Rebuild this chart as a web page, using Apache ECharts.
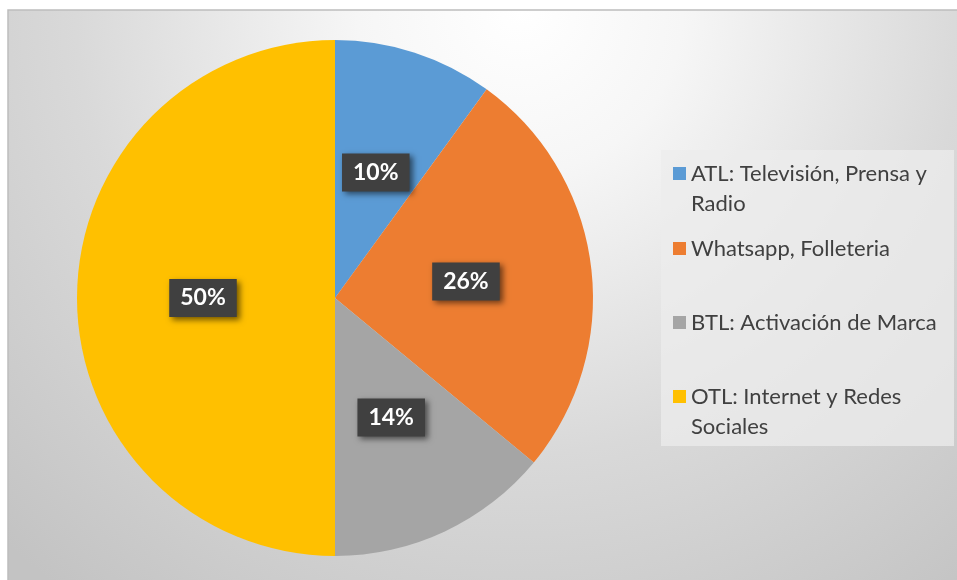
<!DOCTYPE html>
<html>
<head>
<meta charset="utf-8">
<script src="https://cdn.jsdelivr.net/npm/echarts@6/dist/echarts.min.js"></script>
<style>
  html, body { margin: 0; padding: 0; background: #ffffff; }
  #chart { width: 957px; height: 580px; }
</style>
</head>
<body>
<div id="chart"></div>
<script>
// Media mix shares (percent)
const categories = [
  'ATL: Televisión, Prensa y Radio',
  'Whatsapp, Folleteria',
  'BTL: Activación de Marca',
  'OTL: Internet y Redes Sociales'
];
const shares = [10, 26, 14, 50];
const legendLines = [
  ['ATL: Televisión, Prensa y', 'Radio'],
  ['Whatsapp, Folleteria'],
  ['BTL: Activación de Marca'],
  ['OTL: Internet y Redes', 'Sociales']
];
const colors = ['#5B9BD5', '#ED7D31', '#A5A5A5', '#FFC000'];

const chart = echarts.init(document.getElementById('chart'), null, { renderer: 'canvas' });

// One legend block per entry, so each row sits at its own height
const legendTops = [158.5, 233.5, 307.5, 381.5];
const legends = categories.map(function (name, i) {
  const lines = legendLines[i];
  const twoLines = lines.length > 1;
  return {
    orient: 'vertical',
    left: 673,
    top: legendTops[i],
    padding: 0,
    itemWidth: 13,
    itemHeight: twoLines ? 43 : 13,
    itemGap: 6,
    icon: twoLines ? 'path://M0,0H13V13H0Z M0,43H0.01' : 'rect',
    selectedMode: false,
    data: [name],
    formatter: function () { return lines.join('\n'); },
    textStyle: {
      fontFamily: 'Lato',
      fontSize: 22,
      lineHeight: 30,
      color: '#404040'
    }
  };
});

chart.setOption({
  backgroundColor: '#ffffff',
  color: colors,
  animation: false,
  graphic: [
    {
      type: 'rect',
      z: -10,
      shape: { x: 8, y: 10, width: 960, height: 580 },
      style: {
        fill: {
          type: 'radial', x: 520, y: 10, r: 740, global: true,
          colorStops: [
            { offset: 0, color: '#ffffff' },
            { offset: 0.22, color: '#f6f6f6' },
            { offset: 0.6, color: '#d9d9d9' },
            { offset: 1, color: '#c3c3c3' }
          ]
        },
        stroke: '#bdbdbd',
        lineWidth: 1.5
      }
    },
    {
      type: 'rect',
      z: -5,
      shape: { x: 661, y: 150, width: 293, height: 296 },
      style: { fill: 'rgba(236,236,236,0.75)' }
    }
  ],
  legend: legends,
  series: [
    {
      type: 'pie',
      center: [335, 298],
      radius: 258,
      startAngle: 90,
      clockwise: true,
      avoidLabelOverlap: false,
      itemStyle: { borderWidth: 0 },
      label: {
        show: true,
        position: 'inside',
        formatter: '{c}%',
        fontFamily: 'Lato',
        fontWeight: 'bold',
        fontSize: 23,
        color: '#ffffff',
        backgroundColor: '#404040',
        padding: [8, 11, 7, 11],
        shadowColor: 'rgba(0,0,0,0.55)',
        shadowBlur: 6,
        shadowOffsetX: 3,
        shadowOffsetY: 3
      },
      labelLine: { show: false },
      emphasis: { disabled: true },
      data: categories.map(function (name, i) {
        return { name: name, value: shares[i] };
      })
    }
  ]
});
</script>
</body>
</html>
